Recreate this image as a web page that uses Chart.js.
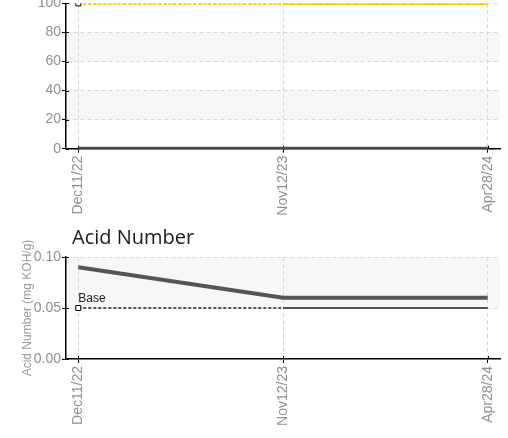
<!DOCTYPE html>
<html lang="en">
<head>
<meta charset="utf-8">
<title>Acid Number</title>
<script src="https://cdn.jsdelivr.net/npm/chart.js@4.4.1/dist/chart.umd.min.js"></script>
<style>
  html, body { margin:0; padding:0; background:#fff; overflow:hidden; }
  body { width:508px; height:438px; position:relative; }
  #graficoTopo { position:absolute; left:0; top:-6px; }
  #graficoAcido { position:absolute; left:0; top:216px; }
</style>
</head>
<body>
<canvas id="graficoTopo" width="508" height="222"></canvas>
<canvas id="graficoAcido" width="508" height="222"></canvas>
<script>
// Dados
const datas = ['Dec11/22', 'Nov12/23', 'Apr28/24'];

const valoresTopo = [0, 0, 0];
const limiteTopo = [100, 100, 100];
const ticksTopo = [0, 20, 40, 60, 80, 100];

const tituloAcido = 'Acid Number';
const tituloEixoAcido = 'Acid Number (mg KOH/g)';
const acidNumber = [0.09, 0.06, 0.06];
const acidBase = [0.05, 0.05, 0.05];
const ticksAcido = [0, 0.05, 0.10];

const FONTE = '"Liberation Sans", Arial, sans-serif';
const COR_TEXTO = '#8f8f8f';

const pontos = arr => arr.map((v, i) => ({ x: i, y: v }));

// Faixas cinzas alternadas entre os ticks
const faixas = {
    id: 'faixas',
    beforeDraw(chart) {
        const { ctx, chartArea: a, scales: { y } } = chart;
        ctx.save();
        ctx.fillStyle = '#f7f7f7';
        for (let i = 1; i < y.ticks.length - 1; i += 2) {
            const y1 = y.getPixelForValue(y.ticks[i].value);
            const y2 = y.getPixelForValue(y.ticks[i + 1].value);
            ctx.fillRect(a.left, y2, a.right - a.left, y1 - y2);
        }
        ctx.restore();
    }
};

// Marcas que cruzam o eixo (parte de dentro)
const marcasCruzadas = {
    id: 'marcasCruzadas',
    beforeDatasetsDraw(chart) {
        const { ctx, chartArea: a, scales: { x, y } } = chart;
        ctx.save();
        ctx.strokeStyle = '#000';
        ctx.lineWidth = 1;
        ctx.beginPath();
        x.ticks.forEach(t => {
            const px = Math.round(x.getPixelForValue(t.value)) + 0.5;
            ctx.moveTo(px, a.bottom);
            ctx.lineTo(px, a.bottom - 3);
        });
        y.ticks.forEach(t => {
            const py = Math.round(y.getPixelForValue(t.value)) + 0.5;
            ctx.moveTo(a.left, py);
            ctx.lineTo(a.left + 3, py);
        });
        ctx.stroke();
        ctx.restore();
    }
};

// Rótulo do limite ("Base") e título do gráfico
const rotulos = {
    id: 'rotulos',
    afterDatasetsDraw(chart, args, opts) {
        const { ctx, chartArea: a } = chart;
        ctx.save();
        if (opts.titulo) {
            ctx.font = '20px "Open Sans", "DejaVu Sans", sans-serif';
            ctx.fillStyle = '#1a1a1a';
            ctx.textBaseline = 'alphabetic';
            ctx.textAlign = 'left';
            ctx.fillText(opts.titulo, a.left + 6, a.top - 13);
        }
        if (opts.limiteIndex !== undefined) {
            const ds = chart.data.datasets[opts.limiteIndex];
            const p = chart.getDatasetMeta(opts.limiteIndex).data[0];
            ctx.font = '12px ' + FONTE;
            ctx.fillStyle = '#222';
            ctx.textBaseline = 'bottom';
            ctx.textAlign = 'left';
            ctx.fillText(ds.label, p.x, p.y - 3);
        }
        ctx.restore();
    }
};

function datasetLimite(label, valores, cor, largura) {
    return {
        label: label,
        data: pontos(valores),
        borderColor: cor,
        borderWidth: largura,
        pointStyle: 'rect',
        pointRadius: ctx => ctx.dataIndex === 0 ? 3.5 : 0,
        pointHoverRadius: 0,
        pointBackgroundColor: '#fff',
        pointBorderColor: '#000',
        pointBorderWidth: 1,
        segment: { borderDash: ctx => ctx.p0DataIndex === 0 ? [3, 2] : undefined },
        tension: 0
    };
}

function datasetValor(label, valores, largura) {
    return {
        label: label,
        data: pontos(valores),
        borderColor: '#555',
        borderWidth: largura,
        pointRadius: 0,
        pointHoverRadius: 0,
        tension: 0
    };
}

function criarOpcoes(cfg) {
    return {
        responsive: false,
        animation: false,
        devicePixelRatio: 1,
        layout: { padding: { top: cfg.paddingTop, right: 8, bottom: 0, left: 0 } },
        plugins: {
            legend: { display: false },
            tooltip: { enabled: false },
            rotulos: cfg.rotulos || {}
        },
        scales: {
            x: {
                type: 'linear',
                min: -0.06,
                max: 2.06,
                afterBuildTicks: s => { s.ticks = datas.map((_, i) => ({ value: i })); },
                afterFit: s => { s.height = cfg.alturaX; },
                grid: { color: '#d6d6d6', lineWidth: 1, tickColor: '#000', tickLength: 4 },
                border: { color: '#000', width: 1.5, dash: [4, 3] },
                ticks: {
                    autoSkip: false, minRotation: 90, maxRotation: 90, padding: 3,
                    color: COR_TEXTO, font: { family: FONTE, size: 14 },
                    callback: v => datas[v]
                }
            },
            y: {
                min: cfg.ticksY[0],
                max: cfg.ticksY[cfg.ticksY.length - 1],
                afterBuildTicks: s => { s.ticks = cfg.ticksY.map(v => ({ value: v })); },
                afterFit: s => { s.width = 66; },
                grid: {
                    color: ctx => ctx.tick && ctx.tick.value === 0 ? 'transparent' : '#d6d6d6',
                    lineWidth: 1, tickColor: '#000', tickLength: 4
                },
                border: { color: '#000', width: 1.5, dash: [4, 3] },
                ticks: {
                    padding: 1, color: COR_TEXTO, font: { family: FONTE, size: 14 },
                    callback: cfg.formato
                },
                title: {
                    display: !!cfg.tituloY,
                    text: cfg.tituloY,
                    color: '#9a9a9a',
                    font: { family: FONTE, size: 12 },
                    padding: { top: 20, bottom: 0 }
                }
            }
        }
    };
}

// Gráfico de cima (cortado no topo)
new Chart(document.getElementById('graficoTopo'), {
    type: 'line',
    data: {
        datasets: [
            datasetLimite('Limit', limiteTopo, '#ffc800', 3),
            datasetValor('Value', valoresTopo, 4)
        ]
    },
    options: criarOpcoes({
        paddingTop: 0,
        alturaX: 67.3,
        ticksY: ticksTopo,
        formato: v => v
    }),
    plugins: [faixas, marcasCruzadas]
});

// Acid Number
new Chart(document.getElementById('graficoAcido'), {
    type: 'line',
    data: {
        datasets: [
            datasetLimite('Base', acidBase, '#555', 2),
            datasetValor('Acid Number', acidNumber, 4)
        ]
    },
    options: criarOpcoes({
        paddingTop: 41,
        alturaX: 79,
        ticksY: ticksAcido,
        formato: v => v.toFixed(2),
        tituloY: tituloEixoAcido,
        rotulos: { titulo: tituloAcido, limiteIndex: 0 }
    }),
    plugins: [faixas, marcasCruzadas, rotulos]
});
</script>
</body>
</html>
